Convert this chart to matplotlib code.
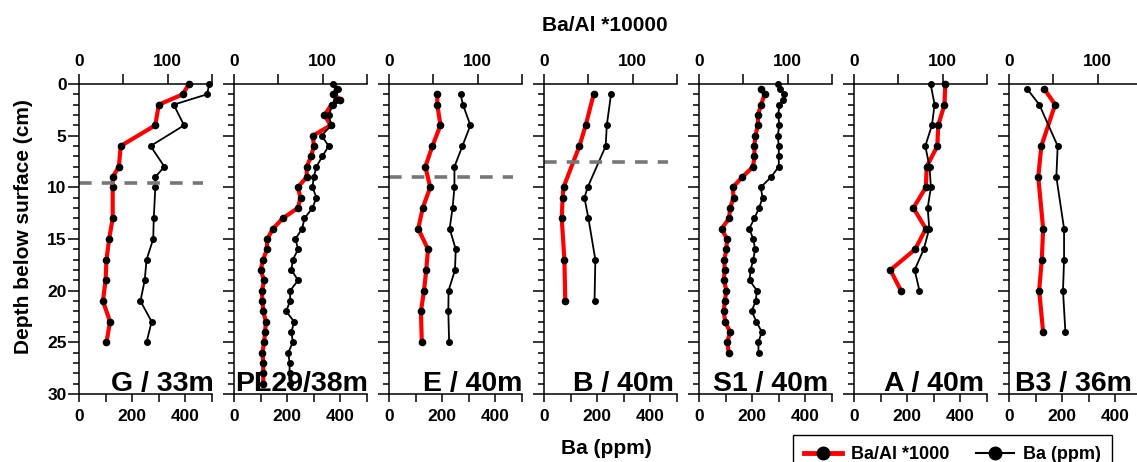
import matplotlib
matplotlib.use('Agg')
import matplotlib.pyplot as plt
from matplotlib.lines import Line2D
from matplotlib.ticker import MultipleLocator

plt.rcParams['font.family'] = ['Liberation Sans', 'DejaVu Sans']
plt.rcParams['font.weight'] = 'bold'

# --- data (depth in cm) ---
cores = ['G / 33m', 'PL29/38m', 'E / 40m', 'B / 40m', 'S1 / 40m', 'A / 40m', 'B3 / 36m']

g_depth = [0, 1, 2, 4, 6, 8, 9, 10, 13, 15, 17, 19, 21, 23, 25]
g_baal = [124, 117, 90, 86, 47, 45, 38, 38, 38, 34, 31, 30, 27, 35, 31]
g_ba = [490, 481, 356, 395, 269, 321, 287, 287, 281, 279, 254, 247, 231, 273, 254]

pl_depth_baal = [0.5, 1, 1.5, 2] + list(range(3, 30))
pl_baal = [116, 112, 120, 110, 102, 109, 89, 90, 87, 82, 82, 72, 75, 72, 55, 44,
           37.5, 37, 33, 30, 34, 31.5, 32, 33, 36, 35, 34, 32, 33, 33, 33]
pl_depth_ba = [0, 0.5, 1, 1.5, 2] + list(range(3, 30))
pl_ba = [371, 391, 375, 382, 371, 356, 366, 329, 356, 332, 310, 300, 295, 310, 295, 265,
         256, 231, 241, 221, 216, 241, 211, 211, 196, 226, 216, 221, 204, 209, 209, 212]

e_depth = [1, 2, 4, 6, 8, 10, 12, 14, 16, 18, 20, 22, 25]
e_baal = [54.5, 54.5, 58, 49, 41, 46.5, 38, 33, 44, 42, 39.5, 36, 37]
e_ba = [269, 278, 306, 276, 246, 246, 239, 228, 251, 248, 224, 223, 226]

b_depth = [1, 4, 6, 10, 11, 13, 17, 21]
b_baal = [56, 47, 40, 22, 21, 20, 23, 24]
b_ba = [252, 236, 232, 164, 152, 167, 193, 190]

s1_depth_baal = [0.5, 1] + list(range(2, 27))
s1_baal = [70, 74, 70, 66.5, 66.5, 63.5, 62.5, 62.5, 61, 49, 38, 39, 35, 34, 25.5,
           31.5, 31, 28.5, 29, 28, 31, 29, 28, 29.5, 35, 32, 33.5]
s1_depth_ba = [0, 0.5, 1, 1.5, 2] + list(range(3, 27))
s1_ba = [298, 305, 321, 316, 302, 298, 302, 296, 300, 300, 300, 271, 232, 239, 226,
         208, 189, 204, 211, 204, 194, 190, 218, 213, 198, 216, 236, 223, 224]

a_depth = [0, 2, 4, 6, 8, 10, 12, 14, 16, 18, 20]
a_baal = [103, 102, 95, 94, 82, 81, 67, 81, 69, 41, 53]
a_ba = [288, 303, 293, 268, 284, 289, 277, 283, 262, 228, 246]

b3_depth = [0.5, 2, 6, 9, 14, 17, 20, 24]
b3_baal = [40, 52, 36.5, 33, 38.5, 37, 34, 38.5]
b3_ba = [69, 114, 183, 178, 207, 207, 203, 212]

# dashed line depth (cm) per core, None = no line
line_depth = [9.6, None, 9.0, 7.5, None, None, None]

depth_baal = [g_depth, pl_depth_baal, e_depth, b_depth, s1_depth_baal, a_depth, b3_depth]
baal = [g_baal, pl_baal, e_baal, b_baal, s1_baal, a_baal, b3_baal]
depth_ba = [g_depth, pl_depth_ba, e_depth, b_depth, s1_depth_ba, a_depth, b3_depth]
ba = [g_ba, pl_ba, e_ba, b_ba, s1_ba, a_ba, b3_ba]

# --- layout ---
W, H = 1137, 462
fig = plt.figure(figsize=(W / 100, H / 100), dpi=100)
label_x = [1.015, 1.01, 1.0, 0.98, 0.97, 0.98, 0.925]

for i in range(7):
    ax = fig.add_axes([(79 + 155 * i) / W, 1 - 394 / H, 133 / W, 310 / H])
    ax.set_ylim(30, 0)
    ax2 = ax.twiny()

    ax2.plot(baal[i], depth_baal[i], color='red', lw=3, marker='o', ms=4.5,
             mfc='k', mec='k', clip_on=False)
    ax.plot(ba[i], depth_ba[i], color='k', lw=1.3, marker='o', ms=4, clip_on=False)
    ax.set_zorder(ax2.get_zorder() + 1)
    ax.patch.set_visible(False)

    if line_depth[i] is not None:
        ax.axhline(line_depth[i], xmin=0, xmax=0.935, color='#777777', lw=2.6,
                   ls=(0, (3.5, 2.8)))

    ax.set_xlim(0, 500)
    ax.xaxis.set_major_locator(MultipleLocator(200))
    ax.xaxis.set_minor_locator(MultipleLocator(100))
    ax.tick_params(axis='x', which='both', length=5.5, width=1.1, labelsize=12.5, pad=5.5)
    ax.yaxis.set_major_locator(MultipleLocator(5))
    ax.yaxis.set_minor_locator(MultipleLocator(1))
    ax.tick_params(axis='y', which='major', length=8, width=1.1, labelsize=12.5, pad=1)
    ax.tick_params(axis='y', which='minor', length=4.5, width=1.1)
    if i > 0:
        ax.tick_params(axis='y', labelleft=False)

    ax2.set_xlim(0, 150)
    ax2.xaxis.set_major_locator(MultipleLocator(100))
    ax2.xaxis.set_minor_locator(MultipleLocator(50))
    ax2.tick_params(axis='x', which='both', length=7, width=1.1, labelsize=12.5, pad=4)

    ax.spines['top'].set_visible(False)
    ax.spines['right'].set_visible(False)
    for s in ['left', 'right', 'bottom']:
        ax2.spines[s].set_visible(False)
    for s in ax.spines.values():
        s.set_linewidth(1.1)
    ax2.spines['top'].set_linewidth(1.1)

    ax.text(label_x[i], 0.01, cores[i], transform=ax.transAxes, ha='right',
            va='baseline', fontsize=20.5, zorder=5)

fig.text(0.532, 0.944, 'Ba/Al *10000', ha='center', va='center', fontsize=15)
fig.text(0.533, 0.030, 'Ba (ppm)', ha='center', va='center', fontsize=15)
fig.text(0.021, 0.51, 'Depth below surface (cm)', rotation=90, ha='center',
         va='center', fontsize=15)

handles = [Line2D([], [], color='red', lw=3.5, marker='o', ms=9, mfc='k', mec='k'),
           Line2D([], [], color='k', lw=1.5, marker='o', ms=9)]
leg = fig.legend(handles, ['Ba/Al *1000', 'Ba (ppm)'], loc='upper left',
                 bbox_to_anchor=(793 / W, 1 - 435 / H), ncol=2, fancybox=False,
                 edgecolor='k', framealpha=1, fontsize=13, handlelength=2.1,
                 handletextpad=0.5, columnspacing=1.5, borderpad=0.6, borderaxespad=0)
leg.get_frame().set_linewidth(1.0)

fig.savefig('out.png', dpi=100)
